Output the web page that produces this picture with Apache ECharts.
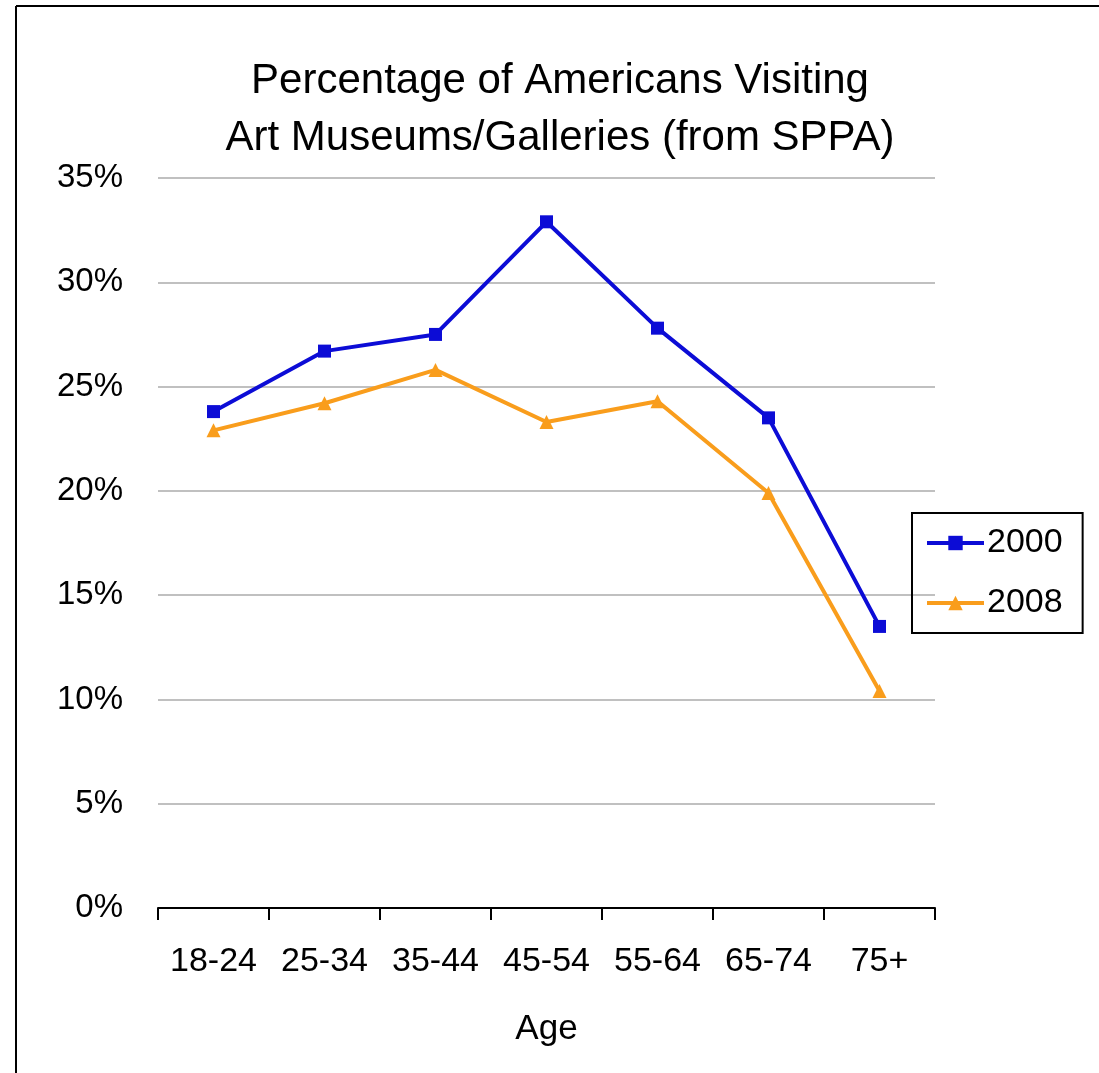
<!DOCTYPE html>
<html>
<head>
<meta charset="utf-8">
<script src="https://cdn.jsdelivr.net/npm/echarts@6/dist/echarts.min.js"></script>
<style>
  html, body { margin: 0; padding: 0; background: #fff; }
  #chart { width: 1099px; height: 1073px; }
</style>
</head>
<body>
<div id="chart"></div>
<script>
// Data.
const ageGroups = ['18-24', '25-34', '35-44', '45-54', '55-64', '65-74', '75+'];
const seriesNames = ['2000', '2008'];
const values2000 = [23.8, 26.7, 27.5, 32.9, 27.8, 23.5, 13.5];
const values2008 = [22.9, 24.2, 25.8, 23.3, 24.3, 19.9, 10.4];
const yTicks = { min: 0, max: 35, interval: 5 };

const FONT = '"Liberation Sans", Arial, sans-serif';
const BLUE = '#0c0cd6';
const ORANGE = '#f99d1c';

const chart = echarts.init(document.getElementById('chart'), undefined, { renderer: 'canvas' });

chart.setOption({
    backgroundColor: '#fff',
    animation: false,
    title: {
        text: 'Percentage of Americans Visiting\nArt Museums/Galleries (from SPPA)',
        left: 555,
        top: 48,
        textAlign: 'center',
        textStyle: { fontFamily: FONT, fontSize: 42, fontWeight: 'normal', color: '#000', lineHeight: 57 },
    },
    grid: { left: 158, right: 164, top: 178, bottom: 165, containLabel: false },
    legend: {
        orient: 'vertical',
        left: 912,
        top: 513,
        width: 171,
        padding: [13, 20, 13, 13],
        itemGap: 26,
        itemWidth: 57,
        itemHeight: 18,
        borderColor: '#000',
        borderWidth: 2,
        lineStyle: { width: 4 },
        textStyle: { fontFamily: FONT, fontSize: 34, color: '#000', padding: [0, 0, 0, -2] },
        data: seriesNames,
    },
    xAxis: {
        type: 'category',
        data: ageGroups,
        boundaryGap: true,
        name: 'Age',
        nameLocation: 'middle',
        nameGap: 104,
        nameTextStyle: { fontFamily: FONT, fontSize: 35, color: '#000' },
        axisLine: { lineStyle: { color: '#000', width: 2 } },
        axisTick: { show: true, interval: 0, length: 12, lineStyle: { color: '#000', width: 2 } },
        axisLabel: { interval: 0, fontFamily: FONT, fontSize: 34, color: '#000', margin: 37 },
        splitLine: { show: false },
    },
    yAxis: {
        type: 'value',
        min: yTicks.min,
        max: yTicks.max,
        interval: yTicks.interval,
        axisLine: { show: false },
        axisTick: { show: false },
        axisLabel: { fontFamily: FONT, fontSize: 33, color: '#000', margin: 35, formatter: '{value}%' },
        splitLine: { lineStyle: { color: '#c0c0c0', width: 2 } },
    },
    series: [
        {
            name: seriesNames[0],
            type: 'line',
            data: values2000,
            symbol: 'rect',
            symbolSize: 13,
            lineStyle: { color: BLUE, width: 4 },
            itemStyle: { color: BLUE },
            z: 3,
        },
        {
            name: seriesNames[1],
            type: 'line',
            data: values2008,
            symbol: 'triangle',
            symbolSize: 14,
            lineStyle: { color: ORANGE, width: 4 },
            itemStyle: { color: ORANGE },
            z: 2,
        },
    ],
    graphic: [
        // outer frame: only top and left edges are visible in the reference
        { type: 'line', shape: { x1: 16, y1: 6, x2: 1099, y2: 6 }, style: { stroke: '#000', lineWidth: 2 } },
        { type: 'line', shape: { x1: 16, y1: 6, x2: 16, y2: 1073 }, style: { stroke: '#000', lineWidth: 2 } },
    ],
});
</script>
</body>
</html>
